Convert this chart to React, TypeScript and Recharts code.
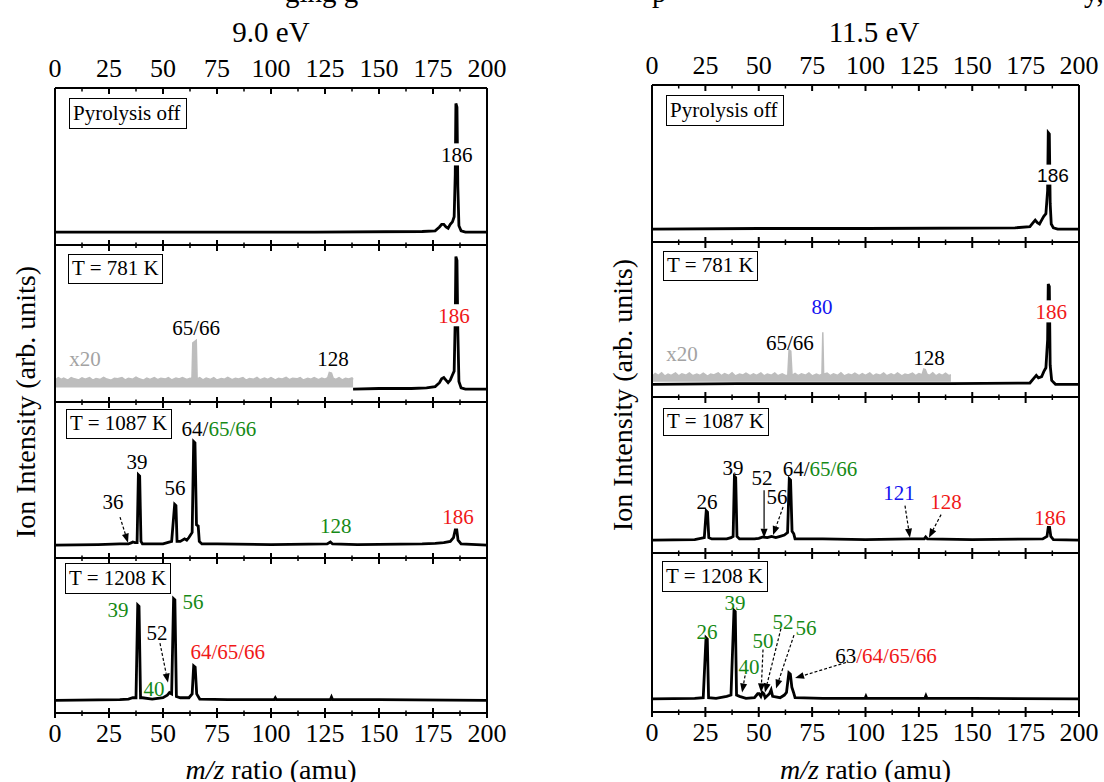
import React from 'react';
import { Line, Area, XAxis, YAxis, ReferenceDot, ReferenceLine, ComposedChart } from 'recharts';

type Pt = [number, number];
type Part = [string, string];
type Note = { parts: Part[]; mz: number; v: number; bg?: boolean; sans?: boolean };
type Arrow = { from: Pt; to: Pt; dashed: boolean };

const BLACK = '#000000';
const GREEN = '#168a16';
const RED = '#f01818';
const BLUE = '#1414f0';
const GREY = '#bdbdbd';
const GREY_TXT = '#a3a3a3';
const SERIF = "'Liberation Serif', 'Times New Roman', serif";
const SANS = "'Liberation Sans', 'Open Sans', sans-serif";

const mzTicks = [0, 12.5, 25, 37.5, 50, 62.5, 75, 87.5, 100, 112.5, 125, 137.5, 150, 162.5, 175, 187.5, 200];

// ---------- 9.0 eV spectra ----------
const left9Off: Pt[] = [
  [0, 0], [120, 0], [170, 0.005], [176, 0.01], [178, 0.04], [179, 0.06], [180, 0.06], [181, 0.04],
  [182, 0.03], [183, 0.06], [184, 0.08], [184.8, 0.12], [185.3, 0.45], [185.6, 1.0], [186.1, 0.97],
  [186.5, 0.35], [187, 0.05], [188, 0.01], [190, 0], [200, 0],
];
const left9T781: Pt[] = [
  [138, 0], [150, 0.005], [165, 0.005], [172, 0.01], [176, 0.02], [178, 0.05], [179, 0.08], [180, 0.09],
  [181, 0.07], [182, 0.05], [183, 0.07], [184, 0.11], [184.8, 0.14], [185.3, 0.55], [185.6, 1.03],
  [186.1, 1.0], [186.5, 0.45], [187, 0.06], [188, 0.01], [190, 0], [200, 0],
];
const left9T781x20: Pt[] = [
  [0, 0.07], [1.5, 0.09], [3, 0.075], [4, 0.085], [6, 0.07], [7.5, 0.09], [9, 0.08], [11, 0.072],
  [12.5, 0.088], [14, 0.078], [16, 0.09], [17.5, 0.07], [19, 0.082], [21, 0.075], [22.5, 0.092],
  [24, 0.078], [26, 0.07], [27.5, 0.085], [29, 0.08], [31, 0.09], [32.5, 0.072], [34, 0.084], [36, 0.077],
  [37.5, 0.093], [39, 0.08], [41, 0.07], [42.5, 0.086], [44, 0.076], [46, 0.09], [47.5, 0.073],
  [49, 0.085], [51, 0.078], [52.5, 0.09], [54, 0.072], [56, 0.086], [57.5, 0.079], [59, 0.09],
  [61, 0.075], [62.5, 0.085], [63.4, 0.08], [63.8, 0.36], [65.4, 0.38], [65.8, 0.08], [67, 0.09],
  [68.5, 0.072], [70, 0.086], [72, 0.076], [73.5, 0.09], [75, 0.071], [77, 0.083], [78.5, 0.077],
  [80, 0.092], [82, 0.074], [83.5, 0.085], [85, 0.079], [87, 0.09], [88.5, 0.07], [90, 0.083],
  [92, 0.077], [93.5, 0.091], [95, 0.073], [97, 0.086], [98.5, 0.076], [100, 0.09], [102, 0.072],
  [103.5, 0.084], [105, 0.078], [107, 0.092], [108.5, 0.074], [110, 0.085], [112, 0.08], [113.5, 0.09],
  [115, 0.071], [117, 0.084], [118.5, 0.077], [120, 0.09], [122, 0.073], [123.5, 0.086], [125, 0.078],
  [126.3, 0.09], [127, 0.13], [128, 0.125], [128.8, 0.085], [130, 0.076], [131.5, 0.09], [133, 0.072],
  [134.5, 0.085], [136, 0.079], [137.5, 0.088], [138, 0.075],
];
const left9T1087: Pt[] = [
  [0, 0], [20, 0.005], [30, 0.01], [34, 0.01], [35.5, 0.02], [36, 0.025], [37, 0.02], [38, 0.02],
  [38.6, 0.55], [39.2, 0.54], [39.8, 0.03], [40.5, 0.01], [45, 0.01], [50, 0.01], [52, 0.02], [54, 0.03],
  [55.4, 0.32], [56, 0.31], [56.5, 0.03], [58, 0.03], [60, 0.05], [61, 0.04], [62, 0.06], [63.5, 0.1],
  [64.2, 0.81], [64.8, 0.8], [65.5, 0.16], [66.3, 0.15], [66.8, 0.03], [68, 0.01], [75, 0.01],
  [100, 0.005], [126, 0.01], [127.5, 0.025], [128.5, 0.01], [140, 0.005], [170, 0.01], [176, 0.015],
  [180, 0.02], [183, 0.03], [184.5, 0.06], [185.3, 0.12], [186, 0.12], [186.6, 0.04], [188, 0.01], [200, 0],
];
const left9T1208: Pt[] = [
  [0, 0], [30, 0.005], [34, 0.01], [36, 0.02], [37.5, 0.02], [38.3, 0.75], [38.9, 0.74], [39.6, 0.02],
  [40.5, 0.02], [45, 0.01], [50, 0.02], [52, 0.04], [53, 0.06], [54, 0.05], [54.9, 0.8], [55.5, 0.79],
  [56.2, 0.03], [58, 0.02], [62, 0.02], [63.5, 0.05], [64.2, 0.27], [64.9, 0.26], [65.6, 0.05],
  [66.3, 0.03], [67, 0.01], [80, 0.005], [101.5, 0.005], [102, 0.02], [102.5, 0.005], [127.5, 0.005],
  [128, 0.025], [128.5, 0.005], [150, 0.005], [200, 0],
];

// ---------- 11.5 eV spectra ----------
const right115Off: Pt[] = [
  [0, 0], [50, 0.005], [100, 0.005], [170, 0.01], [177, 0.02], [178.5, 0.05], [179.5, 0.07], [180.5, 0.05],
  [181.5, 0.04], [182.5, 0.07], [183.5, 0.1], [184.5, 0.12], [185.3, 0.3], [185.6, 0.75], [186.1, 0.74],
  [186.5, 0.2], [187, 0.04], [188, 0.01], [190, 0], [200, 0],
];
const right115T781: Pt[] = [
  [0, 0], [40, 0.005], [90, 0.005], [140, 0.005], [177, 0.01], [179, 0.05], [180, 0.07], [181, 0.05],
  [182.5, 0.06], [183.5, 0.1], [184.5, 0.13], [185.3, 0.35], [185.6, 0.79], [186.1, 0.77], [186.5, 0.15],
  [187.2, 0.03], [189, 0], [200, 0],
];
const right115T781x20: Pt[] = [
  [0, 0.06], [1.5, 0.085], [3, 0.07], [4.5, 0.09], [6, 0.065], [7.5, 0.08], [9, 0.07], [11, 0.09],
  [12.5, 0.066], [14, 0.082], [16, 0.072], [17.5, 0.09], [19, 0.068], [21, 0.08], [22.5, 0.07],
  [24, 0.088], [26, 0.064], [27.5, 0.08], [29, 0.073], [31, 0.09], [32.5, 0.068], [34, 0.084],
  [36, 0.07], [37.5, 0.09], [39, 0.066], [41, 0.08], [42.5, 0.073], [44, 0.088], [46, 0.068],
  [47.5, 0.083], [49, 0.07], [51, 0.09], [52.5, 0.066], [54, 0.081], [56, 0.072], [57.5, 0.089],
  [59, 0.067], [61, 0.082], [62.5, 0.07], [63.6, 0.07], [64.2, 0.27], [65, 0.26], [65.6, 0.07],
  [67, 0.085], [68.5, 0.068], [70, 0.082], [72, 0.072], [73.5, 0.09], [75, 0.066], [77, 0.08],
  [78.5, 0.07], [79.6, 0.08], [80, 0.41], [80.4, 0.08], [82, 0.088], [83.5, 0.068], [85, 0.082],
  [87, 0.07], [88.5, 0.09], [90, 0.066], [92, 0.08], [93.5, 0.073], [95, 0.088], [97, 0.068],
  [98.5, 0.084], [100, 0.07], [102, 0.09], [103.5, 0.066], [105, 0.081], [107, 0.072], [108.5, 0.089],
  [110, 0.067], [112, 0.082], [113.5, 0.07], [115, 0.09], [117, 0.066], [118.5, 0.08], [120, 0.073],
  [122, 0.088], [123.5, 0.068], [125, 0.084], [126.5, 0.075], [127.3, 0.12], [128, 0.115], [128.8, 0.08],
  [130, 0.07], [131.5, 0.09], [133, 0.066], [134.5, 0.082], [136, 0.07], [137.5, 0.088], [139, 0.068],
  [140, 0.075],
];
const right115T1087: Pt[] = [
  [0, 0], [20, 0.005], [24.5, 0.02], [25.4, 0.23], [26, 0.22], [26.6, 0.02], [28, 0.01], [35, 0.01],
  [37, 0.02], [38, 0.03], [38.6, 0.5], [39.2, 0.49], [39.8, 0.03], [41, 0.01], [48, 0.01], [50, 0.015],
  [52, 0.025], [54, 0.02], [56, 0.03], [58, 0.02], [60, 0.03], [62, 0.04], [63.5, 0.06], [64.3, 0.48],
  [64.9, 0.47], [65.6, 0.07], [66.4, 0.05], [67, 0.01], [80, 0.01], [100, 0.005], [121, 0.01],
  [127.5, 0.01], [128.2, 0.025], [129, 0.01], [150, 0.005], [183, 0.01], [185, 0.03], [185.6, 0.1],
  [186.2, 0.1], [186.8, 0.03], [188, 0.005], [200, 0],
];
const right115T1208: Pt[] = [
  [0, 0], [20, 0.005], [24, 0.01], [25.3, 0.47], [25.9, 0.46], [26.5, 0.01], [30, 0.005], [35, 0.02],
  [37, 0.03], [38.4, 0.68], [39, 0.67], [39.6, 0.03], [41, 0.02], [44, 0.005], [48, 0.01], [49.5, 0.04],
  [50.2, 0.04], [51, 0.02], [51.7, 0.05], [52.4, 0.04], [53, 0.01], [55, 0.04], [55.8, 0.07], [56.5, 0.02],
  [60, 0.01], [62, 0.03], [63, 0.05], [64.1, 0.2], [64.8, 0.19], [65.5, 0.09], [66.3, 0.05], [67, 0.01],
  [80, 0.005], [99.8, 0.005], [100.2, 0.02], [100.6, 0.005], [127.8, 0.005], [128.3, 0.025],
  [128.8, 0.005], [150, 0.005], [200, 0],
];

// ---------- peak labels and arrows ----------
const left9OffNotes: Note[] = [{ parts: [['186', BLACK]], mz: 186, v: 0.6, bg: true }];
const left9T781Notes: Note[] = [
  { parts: [['x20', GREY_TXT]], mz: 13.9, v: 0.24 },
  { parts: [['65/66', BLACK]], mz: 65.3, v: 0.48 },
  { parts: [['128', BLACK]], mz: 128.7, v: 0.24 },
  { parts: [['186', RED]], mz: 184.7, v: 0.57, bg: true },
];
const left9T1087Notes: Note[] = [
  { parts: [['64/', BLACK], ['65/66', GREEN]], mz: 75.9, v: 0.91 },
  { parts: [['39', BLACK]], mz: 38, v: 0.65 },
  { parts: [['56', BLACK]], mz: 55.6, v: 0.45 },
  { parts: [['36', BLACK]], mz: 26.9, v: 0.34 },
  { parts: [['128', GREEN]], mz: 130, v: 0.15 },
  { parts: [['186', RED]], mz: 186.6, v: 0.22 },
];
const left9T1087Arrows: Arrow[] = [{ from: [30.1, 0.22], to: [33.8, 0.02], dashed: true }];
const left9T1208Notes: Note[] = [
  { parts: [['39', GREEN]], mz: 29.2, v: 0.71 },
  { parts: [['56', GREEN]], mz: 63.9, v: 0.78 },
  { parts: [['52', BLACK]], mz: 47.2, v: 0.53 },
  { parts: [['40', GREEN]], mz: 45.8, v: 0.09 },
  { parts: [['64/65/66', RED]], mz: 80, v: 0.38 },
];
const left9T1208Arrows: Arrow[] = [{ from: [48.6, 0.45], to: [52.3, 0.14], dashed: true }];

const right115OffNotes: Note[] = [{ parts: [['186', BLACK]], mz: 187.8, v: 0.42, bg: true, sans: true }];
const right115T781Notes: Note[] = [
  { parts: [['x20', GREY_TXT]], mz: 14, v: 0.24 },
  { parts: [['65/66', BLACK]], mz: 64.6, v: 0.33 },
  { parts: [['80', BLUE]], mz: 79.6, v: 0.61 },
  { parts: [['128', BLACK]], mz: 129.7, v: 0.21 },
  { parts: [['186', RED]], mz: 187, v: 0.57, bg: true },
];
const right115T1087Notes: Note[] = [
  { parts: [['26', BLACK]], mz: 25.8, v: 0.3 },
  { parts: [['39', BLACK]], mz: 37.9, v: 0.57 },
  { parts: [['52', BLACK]], mz: 51.5, v: 0.49 },
  { parts: [['56', BLACK]], mz: 58.5, v: 0.34 },
  { parts: [['64/', BLACK], ['65/66', GREEN]], mz: 78.7, v: 0.56 },
  { parts: [['121', BLUE]], mz: 115.7, v: 0.37 },
  { parts: [['128', RED]], mz: 137.7, v: 0.3 },
  { parts: [['186', RED]], mz: 186.4, v: 0.18 },
];
const right115T1087Arrows: Arrow[] = [
  { from: [52.5, 0.39], to: [52.5, 0.02], dashed: false },
  { from: [61.4, 0.26], to: [56.7, 0.04], dashed: true },
  { from: [118.5, 0.27], to: [120.8, 0.02], dashed: true },
  { from: [135.4, 0.2], to: [129.7, 0.02], dashed: true },
];
const right115T1208Notes: Note[] = [
  { parts: [['26', GREEN]], mz: 25.8, v: 0.52 },
  { parts: [['39', GREEN]], mz: 38.9, v: 0.74 },
  { parts: [['40', GREEN]], mz: 45.4, v: 0.25 },
  { parts: [['50', GREEN]], mz: 52, v: 0.45 },
  { parts: [['52', GREEN]], mz: 61.4, v: 0.59 },
  { parts: [['56', GREEN]], mz: 72.1, v: 0.55 },
  { parts: [['63', BLACK], ['/64/65/66', RED]], mz: 109.6, v: 0.33 },
];
const right115T1208Arrows: Arrow[] = [
  { from: [43.6, 0.18], to: [42.2, 0.05], dashed: true },
  { from: [52, 0.38], to: [51.1, 0.05], dashed: true },
  { from: [60.4, 0.54], to: [52.9, 0.05], dashed: true },
  { from: [66.5, 0.49], to: [58.1, 0.08], dashed: true },
  { from: [90.9, 0.28], to: [67, 0.16], dashed: true },
];

type Panel = {
  spectrum: Pt[];
  overlay?: Pt[];
  overlayBase?: number;
  notes: Note[];
  arrows: Arrow[];
  box: string;
  top: number;
  height: number;
  boxRect: [number, number, number, number];
};
type Column = { left: number; width: number; title: string; titleX: number; yLabelX: number; yLabelY: number; panels: Panel[] };

const columns: Column[] = [
  {
    left: 54, width: 434, title: '9.0 eV', titleX: 271, yLabelX: 26, yLabelY: 402,
    panels: [
      { spectrum: left9Off, notes: left9OffNotes, arrows: [], box: 'Pyrolysis off', top: 88, height: 157, boxRect: [69, 98, 118, 31] },
      { spectrum: left9T781, overlay: left9T781x20, overlayBase: 0.012, notes: left9T781Notes, arrows: [], box: 'T = 781 K', top: 245, height: 157, boxRect: [68, 254, 95, 30] },
      { spectrum: left9T1087, notes: left9T1087Notes, arrows: left9T1087Arrows, box: 'T = 1087 K', top: 402, height: 156, boxRect: [66, 409, 106, 30] },
      { spectrum: left9T1208, notes: left9T1208Notes, arrows: left9T1208Arrows, box: 'T = 1208 K', top: 558, height: 155, boxRect: [65, 563, 106, 31] },
    ],
  },
  {
    left: 651, width: 429, title: '11.5 eV', titleX: 874, yLabelX: 623, yLabelY: 395,
    panels: [
      { spectrum: right115Off, notes: right115OffNotes, arrows: [], box: 'Pyrolysis off', top: 85, height: 157, boxRect: [666, 95, 118, 31] },
      { spectrum: right115T781, overlay: right115T781x20, overlayBase: 0.02, notes: right115T781Notes, arrows: [], box: 'T = 781 K', top: 242, height: 155, boxRect: [663, 251, 95, 30] },
      { spectrum: right115T1087, notes: right115T1087Notes, arrows: right115T1087Arrows, box: 'T = 1087 K', top: 397, height: 156, boxRect: [663, 408, 106, 28] },
      { spectrum: right115T1208, notes: right115T1208Notes, arrows: right115T1208Arrows, box: 'T = 1208 K', top: 553, height: 159, boxRect: [662, 561, 106, 31] },
    ],
  },
];

const toRows = (pts: Pt[]) => pts.map(([mz, v]) => ({ mz, v }));

// ticks cross the divider lines between stacked panels
const midTick = (p: any) => {
  const major = p.payload.value % 25 === 0;
  return <line x1={p.x} x2={p.x} y1={p.y - (major ? 5 : 2.5)} y2={p.y + (major ? 6 : 3)} stroke={BLACK} strokeWidth={major ? 2 : 1.5} />;
};
const bottomTick = (p: any) => {
  const major = p.payload.value % 25 === 0;
  return (
    <g>
      <line x1={p.x} x2={p.x} y1={p.y - (major ? 5 : 2.5)} y2={p.y + (major ? 5 : 3)} stroke={BLACK} strokeWidth={major ? 2 : 1.5} />
      {major && (
        <text x={p.x} y={p.y + 29} textAnchor="middle" fontSize={26} fontFamily={SERIF} fill={BLACK}>{p.payload.value}</text>
      )}
    </g>
  );
};
const topTick = (p: any) => {
  const major = p.payload.value % 25 === 0;
  return (
    <g>
      <line x1={p.x} x2={p.x} y1={p.y} y2={p.y + (major ? 6 : 3.5)} stroke={BLACK} strokeWidth={major ? 2 : 1.5} />
      {major && (
        <text x={p.x} y={p.y - 11} textAnchor="middle" fontSize={26} fontFamily={SERIF} fill={BLACK}>{p.payload.value}</text>
      )}
    </g>
  );
};

const noteShape = (n: Note) => (p: any) => {
  const fs = n.sans ? 19 : 21;
  const chars = n.parts.reduce((s, [t]) => s + t.length, 0);
  const w = chars * fs * 0.52 + 4;
  return (
    <g>
      {n.bg && <rect x={p.cx - w / 2} y={p.cy - fs * 0.55} width={w} height={fs * 1.05} fill="#ffffff" />}
      <text x={p.cx} y={p.cy + fs * 0.35} textAnchor="middle" fontSize={fs} fontFamily={n.sans ? SANS : SERIF}>
        {n.parts.map(([t, c], i) => (
          <tspan key={i} fill={c}>{t}</tspan>
        ))}
      </text>
    </g>
  );
};

const arrowShape = (dashed: boolean) => (p: any) => {
  const { x1, y1, x2, y2 } = p;
  const len = Math.hypot(x2 - x1, y2 - y1) || 1;
  const ux = (x2 - x1) / len;
  const uy = (y2 - y1) / len;
  const bx = x2 - ux * 9;
  const by = y2 - uy * 9;
  return (
    <g>
      <line x1={x1} y1={y1} x2={bx} y2={by} stroke={BLACK} strokeWidth={1.2} strokeDasharray={dashed ? '3 2' : undefined} />
      <polygon points={`${x2},${y2} ${bx - uy * 3.5},${by + ux * 3.5} ${bx + uy * 3.5},${by - ux * 3.5}`} fill={BLACK} />
    </g>
  );
};

function SpectrumPanel({ col, panel, idx }: { col: Column; panel: Panel; idx: number }) {
  const first = idx === 0;
  const last = idx === col.panels.length - 1;
  const frame = { stroke: BLACK, strokeWidth: 2 };
  return (
    <div style={{ position: 'absolute', left: col.left, top: panel.top - (first ? 1 : 0) }}>
      <ComposedChart width={col.width} height={panel.height + 1 + (first ? 1 : 0)} margin={{ top: 0, right: 0, bottom: 0, left: 0 }}>
        <XAxis xAxisId="b" dataKey="mz" type="number" domain={[0, 200]} ticks={mzTicks} interval={0} height={1}
          tickSize={0} tickMargin={0} tickLine={false} axisLine={frame} tick={last ? bottomTick : midTick} allowDataOverflow />
        {first && (
          <XAxis xAxisId="t" orientation="top" dataKey="mz" type="number" domain={[0, 200]} ticks={mzTicks} interval={0}
            height={1} tickSize={0} tickMargin={0} tickLine={false} axisLine={frame} tick={topTick} allowDataOverflow />
        )}
        <YAxis yAxisId="l" type="number" domain={[-0.1, 1.12]} width={1} tick={false} tickLine={false} axisLine={frame} allowDataOverflow />
        <YAxis yAxisId="r" orientation="right" type="number" domain={[-0.1, 1.12]} width={1} tick={false} tickLine={false} axisLine={frame} allowDataOverflow />
        <Line xAxisId="b" yAxisId="l" data={toRows(panel.spectrum)} dataKey="v" type="linear" stroke={BLACK}
          strokeWidth={2.8} dot={false} isAnimationActive={false} />
        {panel.overlay && (
          <Area xAxisId="b" yAxisId="l" data={toRows(panel.overlay)} dataKey="v" type="linear" stroke={GREY}
            strokeWidth={1.5} fill={GREY} fillOpacity={1} baseValue={panel.overlayBase} dot={false} isAnimationActive={false} />
        )}
        {panel.arrows.map((a, i) => (
          <ReferenceLine key={'a' + i} xAxisId="b" yAxisId="l" segment={[{ x: a.from[0], y: a.from[1] }, { x: a.to[0], y: a.to[1] }]}
            shape={arrowShape(a.dashed)} ifOverflow="visible" />
        ))}
        {panel.notes.map((n, i) => (
          <ReferenceDot key={'n' + i} xAxisId="b" yAxisId="l" x={n.mz} y={n.v} r={1} shape={noteShape(n)} ifOverflow="visible" />
        ))}
      </ComposedChart>
    </div>
  );
}

export default function App() {
  return (
    <div style={{ position: 'absolute', left: 0, top: 0, width: 1104, height: 782, background: '#fff', overflow: 'hidden', fontFamily: SERIF }}>
      <style>{'.recharts-surface{overflow:visible}'}</style>
      {/* cropped line of text above the figure */}
      <svg style={{ position: 'absolute', left: 0, top: 0 }} width={1104} height={12}>
        <text x={285} y={2} fontSize={29} fontFamily={SERIF}>ging g</text>
        <text x={652} y={2} fontSize={29} fontFamily={SERIF}>p</text>
        <text x={1084} y={2} fontSize={29} fontFamily={SERIF}>y,</text>
      </svg>
      {columns.map((col, ci) => (
        <React.Fragment key={ci}>
          <div style={{ position: 'absolute', left: col.titleX, top: 32, transform: 'translate(-50%, -50%)', fontSize: 29, whiteSpace: 'nowrap' }}>
            {col.title}
          </div>
          <div style={{ position: 'absolute', left: col.left + col.width / 2, top: 770, transform: 'translate(-50%, -50%)', fontSize: 28, whiteSpace: 'nowrap' }}>
            <i>m/z</i> ratio (amu)
          </div>
          <div style={{ position: 'absolute', left: col.yLabelX, top: col.yLabelY, transform: 'translate(-50%, -50%) rotate(-90deg)', fontSize: 28, whiteSpace: 'nowrap' }}>
            Ion Intensity (arb. units)
          </div>
          {col.panels.map((p, pi) => (
            <SpectrumPanel key={pi} col={col} panel={p} idx={pi} />
          ))}
          {col.panels.map((p, pi) => (
            <div key={'b' + pi} style={{
              position: 'absolute', left: p.boxRect[0], top: p.boxRect[1], width: p.boxRect[2], height: p.boxRect[3],
              boxSizing: 'border-box', border: '1.5px solid #000', background: '#fff', fontSize: 21,
              lineHeight: p.boxRect[3] - 3 + 'px', paddingLeft: 3, whiteSpace: 'nowrap',
            }}>
              {p.box}
            </div>
          ))}
        </React.Fragment>
      ))}
    </div>
  );
}
